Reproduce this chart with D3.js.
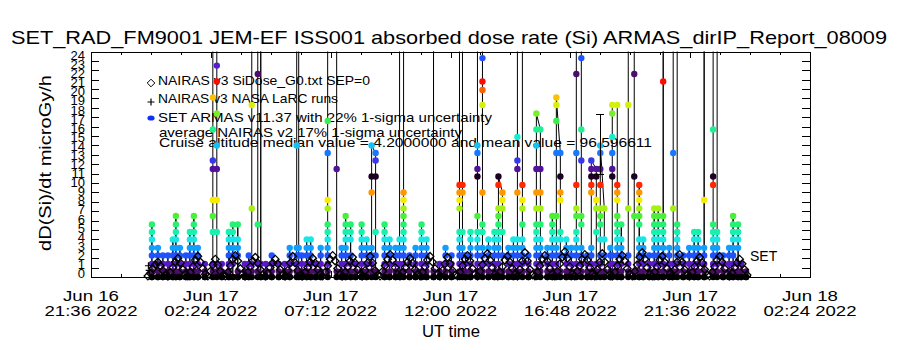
<!DOCTYPE html>
<html>
<head>
<meta charset="utf-8">
<script src="https://cdn.jsdelivr.net/npm/d3@7"></script>
<style>
  body { margin: 0; background: #fff; }
  svg { display: block; }
  text { font-family: "Liberation Sans", Arial, sans-serif; fill: #000; }
</style>
</head>
<body>
<svg id="chart" width="900" height="350"></svg>
<script>
// times are UT hours counted from 2022-06-17 00:00 (negative = Jun 16)
const majorHours = [-2.4, 2.4, 7.2, 12.0, 16.8, 21.6, 26.4];
const tickDay  = ['Jun 16', 'Jun 17', 'Jun 17', 'Jun 17', 'Jun 17', 'Jun 17', 'Jun 18'];
const tickTime = ['21:36 2022', '02:24 2022', '07:12 2022', '12:00 2022', '16:48 2022', '21:36 2022', '02:24 2022'];
const yTicks = d3.range(0, 25);

// NAIRAS v3 SiDose (open diamonds), one reading every 0.1 h from -0.12 h
const nairasStart = -0.12, nairasStep = 0.1;
const nairasDose = [
  0.1,0.4,0.9,1.3,1.6,1.2,0.7,0.2, 0.1,0.5,1.0,1.6,2.0,1.5,0.8,0.3,
  0.1,0.5,1.1,1.8,2.2,1.6,0.9,0.3, 0.1,0.6,1.3,1.9,1.3,0.6,0.2,
  0.1,0.5,1.2,1.9,2.3,1.7,0.9,0.3, 0.1,0.5,1.1,1.7,2.1,1.5,0.8,0.2,
  0.1,0.4,1.0,1.5,1.9,1.4,0.8,0.2, 0.1,0.7,1.5,2.2,1.5,0.7,0.2,
  0.1,0.5,1.0,1.6,2.0,1.5,0.8,0.3, 0.1,0.5,1.2,1.9,2.3,1.7,0.9,0.3,
  0.1,0.5,1.1,1.7,2.1,1.5,0.8,0.2, 0.1,0.7,1.5,2.2,1.5,0.7,0.2,
  0.1,0.6,1.2,1.9,2.4,1.8,1.0,0.3, 0.1,0.5,1.0,1.6,2.0,1.5,0.8,0.3,
  0.1,0.5,1.1,1.8,2.2,1.6,0.9,0.3, 0.1,0.7,1.4,2.1,1.4,0.7,0.2,
  0.1,0.5,1.2,1.9,2.3,1.7,0.9,0.3, 0.1,0.6,1.3,2.0,2.5,1.8,1.0,0.3,
  0.1,0.5,1.1,1.8,2.2,1.6,0.9,0.3, 0.1,0.8,1.7,2.6,1.7,0.8,0.2,
  0.1,0.5,1.2,1.9,2.3,1.7,0.9,0.3, 0.1,0.6,1.4,2.1,2.7,2.0,1.1,0.3,
  0.1,0.6,1.2,1.9,2.4,1.8,1.0,0.3, 0.1,0.8,1.6,2.5,1.6,0.8,0.2,
  0.1,0.5,1.2,1.9,2.3,1.7,0.9,0.3, 0.1,0.6,1.3,2.1,2.6,1.9,1.0,0.3,
  0.1,0.5,1.1,1.8,2.2,1.6,0.9,0.3, 0.1,0.8,1.6,2.4,1.6,0.8,0.2,
  0.1,0.5,1.1,1.7,2.1,1.5,0.8,0.2, 0.1,0.5,1.1,1.8,2.2,1.6,0.9,0.3,
  0.1,0.4,1.0,1.5,1.9,1.4,0.8,0.2
];

// NAIRAS v3 NASA LaRC runs (plus signs)
const larcHour = [-0.10, -0.07];
const larcDose = [1.2, 0.7];

// averaged NAIRAS v2 with its 17% band
const errHour = 18.0, errLow = 10.9, errHigh = 17.3;

// SET ARMAS readings: [UT hour, doses read in order at that time]
const setPasses = [
  [0.04, [0,0.6,1.4,2.3,3.1,4.0,4.8,5.6,0]],
  [0.28, [0,0.6,1.4,2.3,3.1,0]],
  [0.48, [0,0.6,1.4,2.3,0]],
  [0.68, [0,0.6,1.4,2.3,0]],
  [0.88, [0,0.6,1.4,2.3,3.1,4.0,0]],
  [1.00, [0,0.6,1.4,2.3,3.1,4.0,4.8,5.6,6.5,0]],
  [1.16, [0,0.6,1.4,2.3,3.1,0]],
  [1.40, [0,0.6,1.4,2.3,0]],
  [1.56, [0,0.6,1.4,2.3,3.1,4.0,4.8,0]],
  [1.72, [0,0.6,1.4,2.3,3.1,4.0,4.8,5.6,6.5,0]],
  [1.88, [0,0.6,1.4,2.3,3.1,0]],
  [2.16, [0,0.6,1.4,0]],
  [2.48, [0,0.6,1.4,4.8,6.5,8.2,11.5,12.4,15.7,19.1,45]],
  [2.64, [45,22.5,20.8,17.4,14.0,11.5,8.2,4.8,1.4,0.6,0]],
  [2.84, [0,0.6,1.4,0]],
  [3.12, [0,0.6,1.4,2.3,3.1,4.0,4.8,0]],
  [3.28, [0,1.4,2.3,3.1,4.0,4.8,5.6,0]],
  [3.48, [0,0.6,2.3,3.1,4.0,5.6,0]],
  [3.76, [0,0.6,1.4,0]],
  [3.92, [0,0.6,1.4,2.3,0]],
  [4.04, [0,0.6,1.4,7.3,18.3,45]],
  [4.28, [45,21.6,5.6,1.4,0.6,0]],
  [4.40, [0,1.4,45,0]],
  [4.60, [0,0.6,1.4,0]],
  [4.84, [0,0.6,1.4,2.3,0]],
  [5.12, [0,0.6,1.4,0]],
  [5.36, [0,0.6,1.4,0]],
  [5.56, [0,0.6,1.4,2.3,3.1,0]],
  [5.84, [0,0.6,1.4,2.3,3.1,14.0,45]],
  [5.92, [45,3.1,2.3,0.6,0]],
  [6.04, [0,0.6,1.4,2.3,0]],
  [6.24, [0,0.6,1.4,2.3,3.1,4.0,0]],
  [6.40, [0,0.6,1.4,2.3,3.1,4.0,0]],
  [6.60, [0,0.6,1.4,0]],
  [6.80, [0,0.6,1.4,2.3,3.1,0]],
  [7.08, [0,0.6,1.4,2.3,3.1,4.0,4.8,5.6,7.3,8.2,13.2,16.6,45]],
  [7.44, [45,11.5,0.6,0]],
  [7.64, [0,0.6,1.4,2.3,3.1,0]],
  [7.80, [0,0.6,1.4,2.3,3.1,4.0,4.8,5.6,6.5,0]],
  [8.00, [0,0.6,1.4,2.3,4.0,4.8,5.6,0]],
  [8.20, [0,0.6,1.4,0]],
  [8.44, [0,0.6,1.4,2.3,3.1,4.0,4.8,5.6,0]],
  [8.64, [0,0.6,1.4,2.3,3.1,4.0,0]],
  [8.84, [0,0.6,1.4,2.3,3.1,9.0,10.7,14.0]],
  [9.00, [13.2,12.4,10.7,4.8,2.3,0.6,0]],
  [9.36, [0,0.6,1.4,2.3,3.1,4.0,4.8,5.6,0]],
  [9.56, [0,0.6,1.4,2.3,3.1,4.0,0]],
  [9.80, [0,0.6,1.4,2.3,3.1,0]],
  [9.96, [0,0.6,1.4,2.3,3.1,4.0,45]],
  [10.12, [45,9.0,8.2,7.3,6.5,5.6,4.8,4.0,3.1,2.3,1.4,0.6,0]],
  [10.36, [0,0.6,1.4,2.3,0]],
  [10.60, [0,0.6,1.4,2.3,3.1,0]],
  [10.84, [0,0.6,1.4,2.3,3.1,4.0,4.8,5.6,0]],
  [11.04, [0,0.6,1.4,2.3,3.1,4.0,0]],
  [11.32, [0,0.6,45,0]],
  [11.56, [0,0.6,1.4,0]],
  [11.80, [0,0.6,1.4,2.3,3.1,0]],
  [12.04, [0,0.6,1.4,2.3,0]],
  [12.36, [0,0.6,1.4,2.3,3.1,4.0,4.8,7.3,8.2,9.0,9.8,45]],
  [12.48, [45,9.8,9.0,4.8,3.1,2.3,1.4,0.6,0]],
  [12.60, [0,0.6,1.4,2.3,0]],
  [12.80, [0,0.6,1.4,2.3,3.1,4.0,4.8,0]],
  [13.08, [0,0.6,1.4,2.3,3.1,4.0,4.8,6.5,10.7,11.5,13.2,14.0,45]],
  [13.28, [45,23.3,20.8,19.9,18.3,9.0,5.6,4.8,3.1,2.3,1.4,0.6,0]],
  [13.52, [0,0.6,1.4,2.3,3.1,4.0,0]],
  [13.76, [0,0.6,1.4,2.3,3.1,4.0,4.8,0]],
  [13.92, [0,0.6,1.4,2.3,3.1,4.0,4.8,5.6,6.5,7.3,9.8,10.7]],
  [14.08, [9.0,8.2,7.3,4.8,2.3,0.6,0]],
  [14.32, [0,0.6,1.4,2.3,3.1,0]],
  [14.52, [0,0.6,1.4,2.3,3.1,4.0,0]],
  [14.68, [0,0.6,1.4,2.3,3.1,4.0,9.0,11.5,12.4,14.9,45]],
  [14.88, [45,9.8,8.2,7.3,5.6,4.0,3.1,2.3,1.4,0.6,0]],
  [15.12, [0,0.6,1.4,2.3,0]],
  [15.44, [0,0.6,1.4,2.3,3.1,4.0,4.8,5.6,7.3,9.0,11.5,14.0,15.7,17.4]],
  [15.60, [15.7,11.5,9.0,7.3,5.6,4.0,3.1,2.3,1.4,0.6,0]],
  [15.88, [0,0.6,1.4,2.3,3.1,0]],
  [16.08, [0,0.6,1.4,2.3,3.1,4.0,4.8,5.6,6.5,0]],
  [16.24, [0,0.6,1.4,2.3,3.1,4.0,6.5,13.2,16.6,18.3,19.1]],
  [16.40, [13.2,10.7,9.0,8.2,4.8,4.0,2.3,0.6,0]],
  [16.64, [0,0.6,1.4,2.3,3.1,4.0,0]],
  [16.84, [0,0.6,1.4,2.3,3.1,0]],
  [17.04, [0,0.6,1.4,2.3,3.1,4.0,4.8,6.5,7.3,9.8,13.2,21.6,45]],
  [17.24, [45,23.3,15.7,12.4,6.5,5.6,3.1,2.3,1.4,0.6,0]],
  [17.48, [0,0.6,1.4,2.3,0]],
  [17.64, [0,0.6,1.4,2.3,3.1,9.0,9.8,10.7,11.5,12.4]],
  [17.84, [11.5,10.7,8.2,7.3,4.8,1.4,0.6,0]],
  [18.00, [0,0.6,1.4,2.3,4.0,5.6,6.5,7.3,9.8,11.5,13.2,14.0]],
  [18.16, [7.3,4.0,2.3,0.6,0]],
  [18.40, [0,0.6,1.4,2.3,3.1,0]],
  [18.48, [0,0.6,1.4,2.3,10.7,11.5,13.2,14.9,17.4,18.3]],
  [18.68, [18.3,9.8,9.0,8.2,6.5,5.6,4.8,4.0,3.1,2.3,1.4,0.6,0]],
  [18.84, [0,0.6,1.4,2.3,3.1,4.0,5.6,0]],
  [19.12, [0,0.6,1.4,2.3,7.3,18.3,45]],
  [19.36, [45,21.6,10.7,6.5,0.6,0]],
  [19.56, [0,0.6,1.4,2.3,3.1,4.0,5.6,6.5,7.3,8.2,9.0,9.8,0]],
  [19.72, [0,0.6,1.4,2.3,3.1,4.0,0]],
  [19.96, [0,0.6,1.4,2.3,0]],
  [20.16, [0,0.6,1.4,2.3,3.1,4.0,4.8,5.6,6.5,7.3,0]],
  [20.32, [0,0.6,1.4,2.3,3.1,4.0,4.8,5.6,6.5,7.3,0]],
  [20.52, [0,0.6,1.4,2.3,3.1,4.0,4.8,5.6,6.5,20.8,45,0]],
  [20.76, [0,0.6,1.4,2.3,3.1,0]],
  [20.92, [0,0.6,1.4,7.3,13.2,45]],
  [21.08, [45,5.6,4.8,4.0,3.1,2.3,1.4,0.6,0]],
  [21.32, [0,0.6,1.4,2.3,0]],
  [21.56, [0,0.6,1.4,2.3,3.1,0]],
  [21.76, [0,0.6,1.4,2.3,3.1,4.0,4.8,0]],
  [21.92, [0,0.6,1.4,2.3,3.1,4.0,4.8,0]],
  [22.16, [0,0.6,1.4,2.3,3.1,8.2,45,0]],
  [22.52, [0,0.6,1.4,2.3,3.1,4.0,4.8,5.6,9.8,10.7,15.7,45]],
  [22.68, [45,4.8,4.0,3.1,2.3,1.4,0.6,0]],
  [22.92, [0,0.6,1.4,2.3,0]],
  [23.16, [0,0.6,1.4,2.3,3.1,0]],
  [23.32, [0,0.6,1.4,2.3,3.1,4.0,4.8,5.6,6.5,0]],
  [23.52, [0,0.6,1.4,3.1,4.0,4.8,5.6,0]],
  [23.64, [0,0.6,1.4,0]],
  [23.84, [0,0.6,0]]
];

const legendLines = [
  'NAIRAS v3 SiDose_G0.txt SEP=0',
  'NAIRAS v3 NASA LaRC runs',
  'SET ARMAS v11.37 with 22% 1-sigma uncertainty',
  'average NAIRAS v2 17% 1-sigma uncertainty',
  'Cruise altitude median value = 4.2000000 and mean value = 96.596611'
];

// ---------------------------------------------------------------
const svg = d3.select('#chart');
const pL = 91, pR = 810, pT = 51.5, pB = 277;
const day0 = Date.UTC(2022, 5, 17);
const toDate = h => new Date(day0 + h * 3600e3);

const x = d3.scaleUtc().domain([toDate(-2.4), toDate(26.4)]).range([pL, pR]);
const y = d3.scaleLinear().domain([0, 24]).range([pB, pT]);
const yLab = d3.scaleLinear().domain([0, 24]).range([278, 60]);

// colour table that wraps around, like the byte-scaled IDL rainbow
const cmap = d3.scaleLinear()
  .domain([0, 0.03, 0.057, 0.137, 0.217, 0.297, 0.377, 0.457, 0.537, 0.617, 0.697, 0.777, 0.857, 0.937, 1])
  .range(['#000000', '#2a0034', '#4c0c6c', '#5818d0', '#1e50ff', '#10a0ff', '#18e8e8', '#18f0b0',
          '#28f070', '#48f038', '#a8f018', '#f4f000', '#ff9800', '#ff2000', '#ff0000'])
  .clamp(true);
const setColor = v => cmap((v % 10.5) / 10.5);

// title
svg.append('text')
  .attr('x', 11).attr('y', 43.5)
  .attr('font-size', 19)
  .attr('textLength', 876).attr('lengthAdjust', 'spacingAndGlyphs')
  .text('SET_RAD_FM9001  JEM-EF ISS001 absorbed dose rate (Si) ARMAS_dirIP_Report_08009');

// axes
const minorDates = d3.range(-2.4, 26.41, 1.2).map(toDate);
const majorDates = majorHours.map(toDate);
const axG = svg.append('g').attr('shape-rendering', 'crispEdges');
axG.append('g').attr('transform', `translate(0,${pB})`)
   .call(d3.axisBottom(x).tickValues(minorDates).tickSize(-3).tickSizeOuter(0).tickFormat(''));
axG.append('g').attr('transform', `translate(0,${pB})`)
   .call(d3.axisBottom(x).tickValues(majorDates).tickSize(-6).tickSizeOuter(0).tickFormat(''));
axG.append('g').attr('transform', `translate(0,${pT})`)
   .call(d3.axisTop(x).tickValues(minorDates).tickSize(-3).tickSizeOuter(0).tickFormat(''));
axG.append('g').attr('transform', `translate(0,${pT})`)
   .call(d3.axisTop(x).tickValues(majorDates).tickSize(-6).tickSizeOuter(0).tickFormat(''));
axG.append('g').attr('transform', `translate(${pL},0)`)
   .call(d3.axisLeft(y).tickValues(yTicks).tickSize(-8).tickSizeOuter(0).tickFormat(''));
axG.append('g').attr('transform', `translate(${pR},0)`)
   .call(d3.axisRight(y).tickValues(yTicks).tickSize(-8).tickSizeOuter(0).tickFormat(''));
axG.selectAll('path.domain, .tick line').attr('stroke', '#000').attr('stroke-width', 1);

// x tick labels, two lines each
majorHours.forEach((h, i) => {
  const cx = x(toDate(h));
  svg.append('text').attr('x', cx).attr('y', 300.5).attr('font-size', 14)
     .attr('text-anchor', 'middle').attr('textLength', 56).attr('lengthAdjust', 'spacingAndGlyphs')
     .text(tickDay[i]);
  svg.append('text').attr('x', cx).attr('y', 316).attr('font-size', 14)
     .attr('text-anchor', 'middle').attr('textLength', 93).attr('lengthAdjust', 'spacingAndGlyphs')
     .text(tickTime[i]);
});

svg.append('text').attr('x', 451).attr('y', 337).attr('font-size', 16)
   .attr('text-anchor', 'middle').attr('textLength', 58).attr('lengthAdjust', 'spacingAndGlyphs')
   .text('UT time');

// y tick labels (they crowd into each other, as in the original)
svg.append('g').selectAll('text').data(yTicks).join('text')
   .attr('x', 85).attr('y', d => yLab(d))
   .attr('font-size', 13).attr('text-anchor', 'end')
   .text(d => d);

svg.append('text')
   .attr('transform', 'translate(51,163) rotate(-90)')
   .attr('font-size', 16).attr('text-anchor', 'middle')
   .attr('textLength', 176).attr('lengthAdjust', 'spacingAndGlyphs')
   .text('dD(Si)/dt microGy/h');

// legend text (data is drawn over it)
const legY = [85, 103, 122, 137, 146.5];
const legX = [158, 158, 158, 159, 159];
const legW = [212, 180, 334, 303, 493];
legendLines.forEach((s, i) => {
  svg.append('text').attr('x', legX[i]).attr('y', legY[i]).attr('font-size', 13)
     .attr('textLength', legW[i]).attr('lengthAdjust', 'spacingAndGlyphs').text(s);
});
const diamond = 'M0,-3.8L3.8,0L0,3.8L-3.8,0Z';
const plus = 'M-3.5,0H3.5M0,-3.5V3.5';
svg.append('path').attr('d', diamond).attr('transform', 'translate(151,83)')
   .attr('fill', 'none').attr('stroke', '#000');
svg.append('path').attr('d', plus).attr('transform', 'translate(151,102)')
   .attr('fill', 'none').attr('stroke', '#000').attr('stroke-width', 1.2);
svg.append('ellipse').attr('cx', 151).attr('cy', 118).attr('rx', 3.6).attr('ry', 2.6)
   .attr('fill', '#1030ff');

// data
svg.append('clipPath').attr('id', 'clip')
   .append('rect').attr('x', pL).attr('y', pT).attr('width', pR - pL).attr('height', pB - pT + 4);

const setPts = setPasses.flatMap(([h, ds]) => ds.map(v => ({ h, v })));
const dataG = svg.append('g');

dataG.append('path').datum(setPts)
   .attr('clip-path', 'url(#clip)')
   .attr('fill', 'none').attr('stroke', '#000').attr('stroke-width', 1)
   .attr('d', d3.line().x(d => x(toDate(d.h))).y(d => y(d.v)));

dataG.append('g').selectAll('circle').data(setPts.filter(d => d.v <= 24)).join('circle')
   .attr('cx', d => x(toDate(d.h))).attr('cy', d => y(d.v)).attr('r', 3.2)
   .attr('fill', d => setColor(d.v));

const nairasPts = nairasDose.map((v, i) => ({ h: nairasStart + i * nairasStep, v }));
dataG.append('g').selectAll('path').data(nairasPts).join('path')
   .attr('d', diamond)
   .attr('transform', d => `translate(${x(toDate(d.h))},${y(d.v)})`)
   .attr('fill', 'none').attr('stroke', '#000').attr('stroke-width', 1.3);

dataG.append('g').selectAll('path').data(larcHour).join('path')
   .attr('d', plus)
   .attr('transform', (h, i) => `translate(${x(toDate(h))},${y(larcDose[i])})`)
   .attr('fill', 'none').attr('stroke', '#000').attr('stroke-width', 1.2);

// error bar
const ex = x(toDate(errHour));
const eb = dataG.append('g').attr('stroke', '#000').attr('shape-rendering', 'crispEdges');
eb.append('line').attr('x1', ex).attr('x2', ex).attr('y1', y(errLow)).attr('y2', y(errHigh));
eb.append('line').attr('x1', ex - 4).attr('x2', ex + 4).attr('y1', y(errLow)).attr('y2', y(errLow));
eb.append('line').attr('x1', ex - 4).attr('x2', ex + 4).attr('y1', y(errHigh)).attr('y2', y(errHigh));

svg.append('text').attr('x', 750).attr('y', 261).attr('font-size', 14).text('SET');
</script>
</body>
</html>
